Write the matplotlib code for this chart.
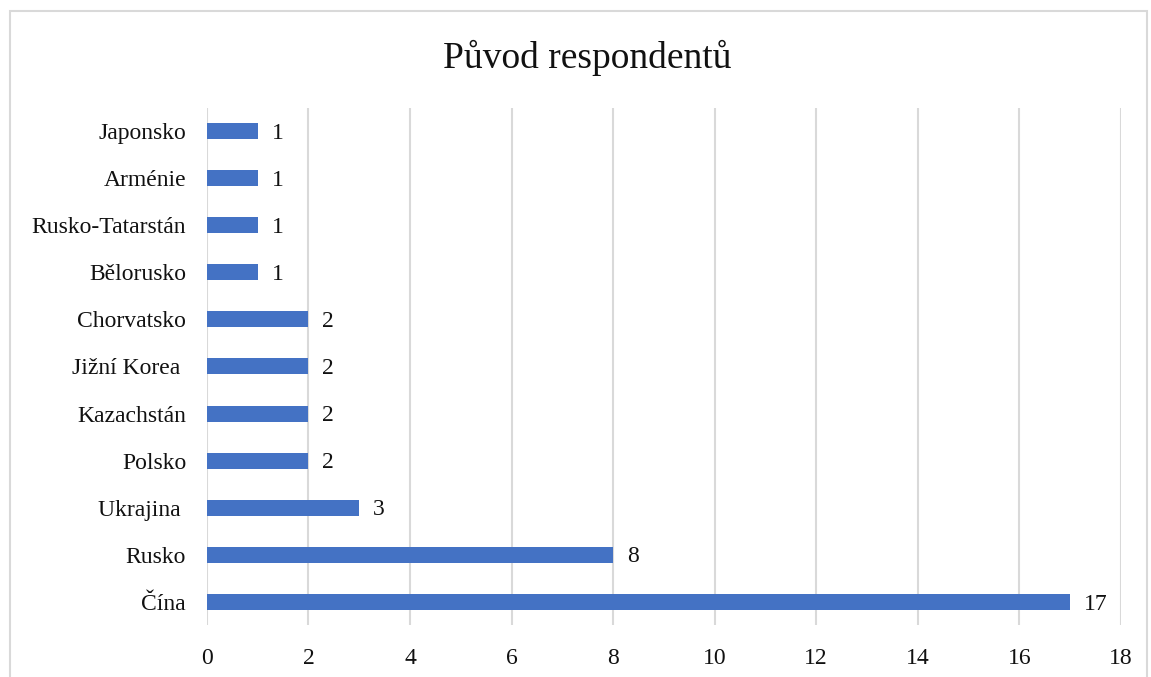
import matplotlib.pyplot as plt
from matplotlib.patches import Rectangle

countries = ["Čína", "Rusko", "Ukrajina ", "Polsko", "Kazachstán", "Jižní Korea ",
             "Chorvatsko", "Bělorusko", "Rusko-Tatarstán", "Arménie", "Japonsko"]
counts = [17, 8, 3, 2, 2, 2, 2, 1, 1, 1, 1]
xticks = [0, 2, 4, 6, 8, 10, 12, 14, 16, 18]

plt.rcParams['font.family'] = ['Liberation Serif', 'DejaVu Serif']
txt = '#111111'

fig = plt.figure(figsize=(11.51, 6.77), dpi=100)
ax = fig.add_axes([0.1798, 0.0761, 0.794, 0.7651])

ax.barh(range(len(countries)), counts, height=0.34, color='#4472C4', zorder=3)
# value labels just right of each bar
for i, v in enumerate(counts):
    ax.annotate(str(v), (v, i), xytext=(10, -1.5), textcoords='offset points',
                ha='left', va='center', fontsize=17, color=txt)

ax.set_yticks(range(len(countries)))
ax.set_yticklabels(countries, fontsize=17, color=txt)
ax.set_xticks(xticks)
ax.set_xticklabels([str(t) for t in xticks], fontsize=17, color=txt)
ax.set_xlim(0, 18)
ax.set_ylim(-0.5, len(countries) - 0.5)
ax.tick_params(axis='x', length=0, pad=16)
ax.tick_params(axis='y', length=0, pad=15)
ax.grid(axis='x', color='#d9d9d9', linewidth=1.5, zorder=0)
for s in ax.spines.values():
    s.set_visible(False)

fig.text(0.51, 0.915, "Původ respondentů", ha='center', va='center', fontsize=27, color=txt)

# light frame around the chart area
fig.patches.append(Rectangle((10 / 1151, -0.01), 1137 / 1151, 1 - 11 / 677 + 0.01,
                             transform=fig.transFigure, fill=False,
                             edgecolor='#d9d9d9', linewidth=1.5))

fig.savefig("out.png", dpi=100)
